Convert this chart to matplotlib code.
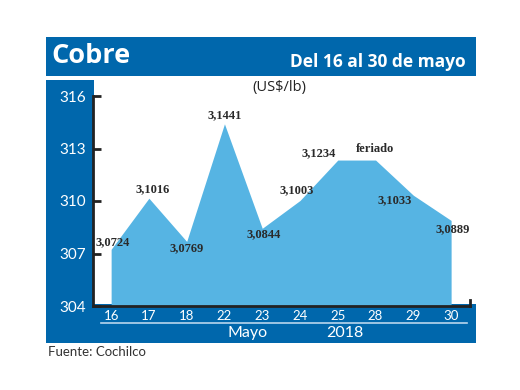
import matplotlib.pyplot as plt
from matplotlib.patches import Rectangle

dias = ["16", "17", "18", "22", "23", "24", "25", "28", "29", "30"]
precio = [307.24, 310.16, 307.69, 314.41, 308.44, 310.03, 312.34, 312.34, 310.33, 308.89]
etiquetas = ["3,0724", "3,1016", "3,0769", "3,1441", "3,0844", "3,1003", "3,1234", "feriado", "3,1033", "3,0889"]
# offsets of each label from its point, in pixels (dx, dy; y up)
offsets = [(2, 7), (4, 9), (0, -7), (0, 9), (1, -6), (-3, 10), (-19, 7), (-1, 11), (-19, -5), (2, -9)]
yticks = [304, 307, 310, 313, 316]

W, H = 520, 390
AZUL = "#0067ac"
CELESTE = "#56b4e3"


def rect(x, y, w, h):
    # pixel box (top-left origin) -> figure fraction
    return [x / W, 1 - (y + h) / H, w / W, h / H]


fig = plt.figure(figsize=(W / 100, H / 100), dpi=100)


def banda(x, y, w, h, color=AZUL, z=-1):
    l, b, ww, hh = rect(x, y, w, h)
    fig.add_artist(Rectangle((l, b), ww, hh, transform=fig.transFigure,
                             facecolor=color, edgecolor="none", zorder=z))


def texto(x, y, s, **kw):
    fig.text(x / W, 1 - y / H, s, **kw)


# bands
banda(46, 37, 430, 39)
banda(46, 80, 48, 263)
banda(46, 304, 430, 39)

texto(51, 56, "Cobre", color="white", fontsize=19.5, fontweight="bold",
      family="Open Sans", va="center", ha="left")
texto(466, 62, "Del 16 al 30 de mayo", color="white", fontsize=12.5,
      fontweight="bold", family="Open Sans", va="center", ha="right")
texto(279, 88, "(US$/lb)", color="#222222", fontsize=10.5, family="Open Sans",
      va="center", ha="center")

ax = fig.add_axes(rect(93, 96, 377, 210))
ax.set_facecolor("none")
x = list(range(len(dias)))
ax.fill_between(x, 304, precio, color=CELESTE, lw=0, zorder=1)
ax.set_xlim(-0.48, 9.5)
ax.set_ylim(304, 316)

for s in ["top", "right"]:
    ax.spines[s].set_visible(False)
for s in ["left", "bottom"]:
    ax.spines[s].set_linewidth(2)
    ax.spines[s].set_color("#222222")
    ax.spines[s].set_zorder(3)

ax.set_yticks(yticks)
ax.set_yticklabels([str(t) for t in yticks])
ax.tick_params(axis="y", direction="in", length=6, width=2, color="#222222",
               labelcolor="white", labelsize=11, pad=5)
ax.set_xticks(x)
ax.set_xticklabels(dias)
ax.tick_params(axis="x", length=0, labelcolor="white", labelsize=9.5, pad=3)
for lab in ax.get_xticklabels() + ax.get_yticklabels():
    lab.set_family("Lato")

ax.plot([1, 1], [0, 0.03], transform=ax.transAxes, color="#222222", lw=2,
        clip_on=False, zorder=3)

for xi, yi, lab, (dx, dy) in zip(x, precio, etiquetas, offsets):
    ax.annotate(lab, (xi, yi), xytext=(dx * 0.72, dy * 0.72),
                textcoords="offset points", ha="center", va="center",
                fontsize=9, fontweight="bold", family="Liberation Serif",
                color="#2a2a2a", zorder=4)

# thin line and bottom labels
fig.add_artist(plt.Line2D([101 / W, 467 / W], [1 - 323 / H, 1 - 323 / H],
                          transform=fig.transFigure, color="#b8d6ee", lw=1.2))
texto(248, 333, "Mayo", color="white", fontsize=11.5, family="Lato",
      va="center", ha="center")
texto(345, 333, "2018", color="white", fontsize=11.5, family="Lato",
      va="center", ha="center")
texto(48, 352, "Fuente: Cochilco", color="#333333", fontsize=9.5,
      family="Lato", va="center", ha="left")

fig.savefig("out.png", dpi=100)
